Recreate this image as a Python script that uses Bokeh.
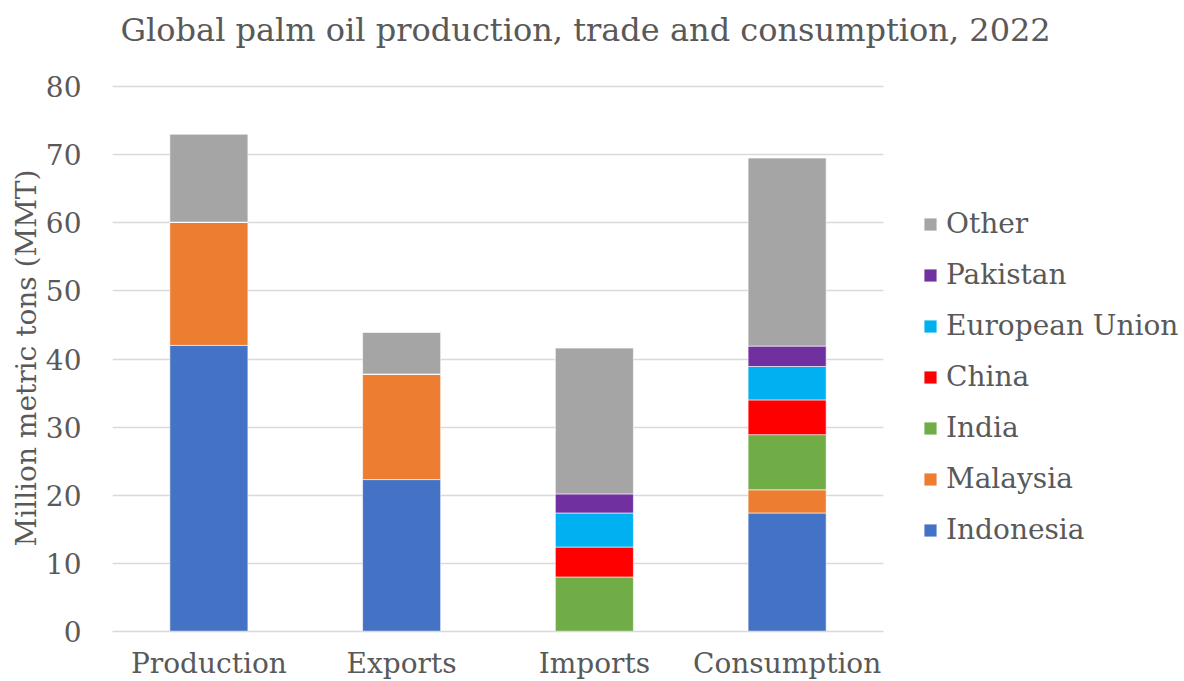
from bokeh.plotting import figure
from bokeh.models import Legend, LegendItem, ColumnDataSource, Range1d, Title
from bokeh.embed import file_html
from bokeh.resources import INLINE

categories = ["Production", "Exports", "Imports", "Consumption"]
series = ["Indonesia", "Malaysia", "India", "China", "European Union", "Pakistan", "Other"]
indonesia = [42.0, 22.3, 0.0, 17.4]
malaysia = [18.1, 15.5, 0.0, 3.4]
india = [0.0, 0.0, 8.0, 8.1]
china = [0.0, 0.0, 4.4, 5.1]
eu = [0.0, 0.0, 5.0, 4.9]
pakistan = [0.0, 0.0, 2.8, 3.0]
other = [12.9, 6.1, 21.4, 27.6]
colors = ["#4472C4", "#ED7D31", "#70AD47", "#FF0000", "#00B0F0", "#7030A0", "#A5A5A5"]
yticks = [0, 10, 20, 30, 40, 50, 60, 70, 80]

FONT = "DejaVu Serif"
TXT = "#595959"

src = ColumnDataSource(dict(cat=categories, Indonesia=indonesia, Malaysia=malaysia,
                            India=india, China=china, **{"European Union": eu},
                            Pakistan=pakistan, Other=other))

p = figure(x_range=categories, y_range=Range1d(0, 80.3), frame_width=771, frame_height=547,
           output_backend="svg", toolbar_location=None,
           min_border_left=112, min_border_right=0, min_border_top=84, min_border_bottom=50)
p.outline_line_color = None

renderers = p.vbar_stack(series, x="cat", width=0.405, source=src, color=colors,
                         line_color="white", line_width=0.6)

# spacer between the title and the plot area
p.add_layout(Title(text=" ", text_font_size="1px", standoff=21), "above")

p.title.text = "Global palm oil production, trade and consumption, 2022"
p.title.text_font = FONT
p.title.text_font_size = "32px"
p.title.text_font_style = "normal"
p.title.text_color = TXT
p.title.align = "left"
p.title.offset = 8
p.title.vertical_align = "top"
p.title.standoff = 20

p.yaxis.ticker = yticks
p.yaxis.axis_line_color = None
p.yaxis.major_tick_line_color = None
p.yaxis.minor_tick_line_color = None
p.yaxis.major_label_text_font = FONT
p.yaxis.major_label_text_font_size = "28px"
p.yaxis.major_label_text_color = TXT
p.yaxis.major_label_standoff = 25
p.yaxis.axis_label = "Million metric tons (MMT)"
p.yaxis.axis_label_text_font = FONT
p.yaxis.axis_label_text_font_size = "28px"
p.yaxis.axis_label_text_font_style = "normal"
p.yaxis.axis_label_text_color = TXT
p.yaxis.axis_label_standoff = 0

p.xaxis.axis_line_color = "#D9D9D9"
p.xaxis.axis_line_width = 1.5
p.xaxis.major_tick_line_color = None
p.xaxis.minor_tick_line_color = None
p.xaxis.major_label_text_font = FONT
p.xaxis.major_label_text_font_size = "28px"
p.xaxis.major_label_text_color = TXT
p.xaxis.major_label_standoff = 9

p.xgrid.grid_line_color = None
p.ygrid.grid_line_color = "#D9D9D9"
p.ygrid.grid_line_width = 1.5

items = [LegendItem(label=s, renderers=[r]) for s, r in zip(series, renderers)][::-1]
legend = Legend(items=items, location=(39, 76), orientation="vertical",
                glyph_width=16, glyph_height=16, label_height=51, spacing=0,
                label_standoff=8, padding=0, margin=0,
                label_text_font=FONT, label_text_font_size="28px", label_text_color=TXT,
                border_line_color=None, background_fill_alpha=0)
p.add_layout(legend, "right")

open("out.html", "w").write(file_html(p, INLINE))
